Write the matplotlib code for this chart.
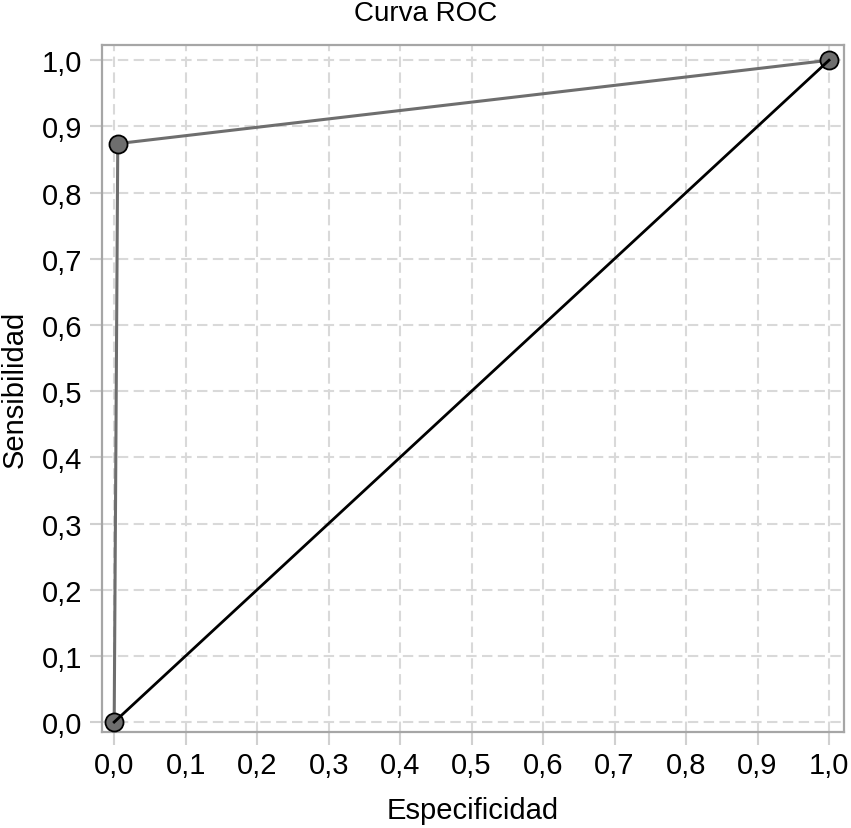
import matplotlib
matplotlib.use("Agg")
import matplotlib.pyplot as plt

plt.rcParams['font.family'] = ['Liberation Sans', 'DejaVu Sans']

fpr = [0.0, 0.005, 1.0]
tpr = [0.0, 0.874, 1.0]
diag_x = [0.0, 1.0]
diag_y = [0.0, 1.0]
ticks = [0.0, 0.1, 0.2, 0.3, 0.4, 0.5, 0.6, 0.7, 0.8, 0.9, 1.0]
tick_labels = ['0,0', '0,1', '0,2', '0,3', '0,4', '0,5', '0,6', '0,7', '0,8', '0,9', '1,0']

fig = plt.figure(figsize=(8.51, 8.29), dpi=100)
ax = fig.add_axes([0.1199, 0.1158, 0.8719, 0.8287])

ax.plot(fpr, tpr, color='#6e6e6e', lw=2.2, marker='o', markersize=13,
        markerfacecolor='#6e6e6e', markeredgecolor='black', markeredgewidth=1.3, zorder=3)
ax.plot(diag_x, diag_y, color='black', lw=2.0, zorder=4)

ax.set_xlim(-0.017, 1.021)
ax.set_ylim(-0.015, 1.023)
ax.set_xticks(ticks)
ax.set_xticklabels(tick_labels)
ax.set_yticks(ticks)
ax.set_yticklabels(tick_labels)
ax.tick_params(axis='both', labelsize=21, color='#d0d0d0', length=9, width=1.5, pad=5)
ax.grid(True, color='#d9d9d9', linestyle=(0, (5, 2.6)), lw=1.5, zorder=0)
for s in ax.spines.values():
    s.set_color('#a6a6a6')
    s.set_linewidth(1.6)

ax.set_xlabel('Especificidad', fontsize=21, labelpad=12)
ax.set_ylabel('Sensibilidad', fontsize=21, labelpad=10)
fig.suptitle('Curva ROC', fontsize=20, x=0.5, y=0.999, va='top')

fig.savefig('out.png', dpi=100)
